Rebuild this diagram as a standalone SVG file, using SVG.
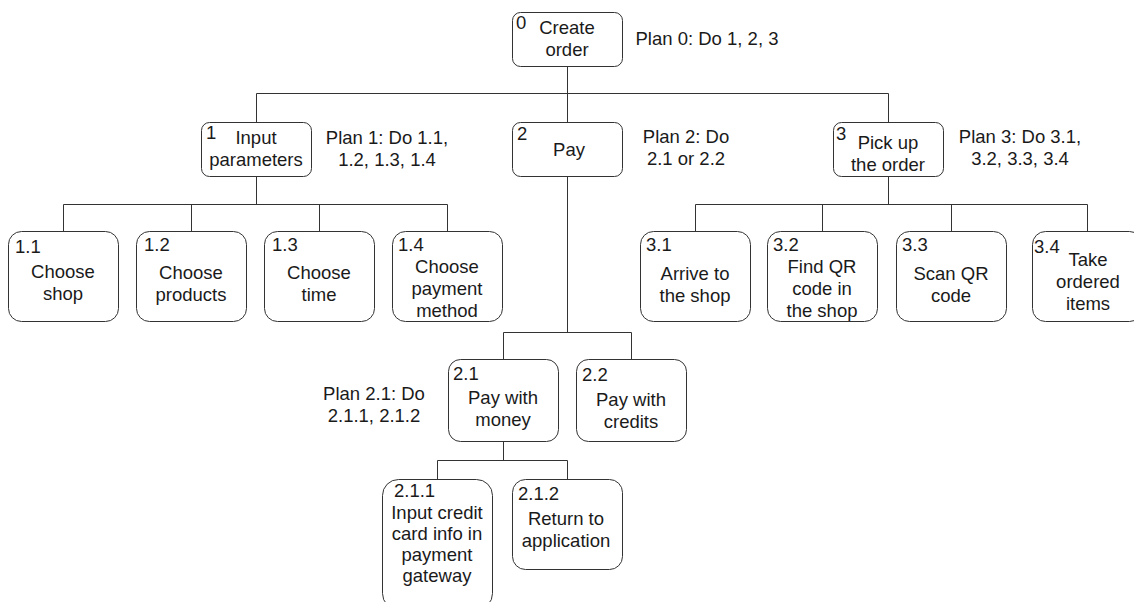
<svg xmlns="http://www.w3.org/2000/svg" width="1134" height="602" viewBox="0 0 1134 602">
  <style>
    .box { fill: #ffffff; stroke: #333333; stroke-width: 1; }
    .edge { fill: none; stroke: #333333; stroke-width: 1; }
    text { font-family: "Liberation Sans", Arial, sans-serif; font-size: 18.5px; fill: #1a1a1a; }
    .c { text-anchor: middle; }
  </style>
  <rect width="1134" height="602" fill="#ffffff"/>

  <!-- tree connectors -->
  <g id="connectors">
    <path class="edge" d="M567.5 66.5 V332.5"/>
    <path class="edge" d="M256.5 122.5 V93.5 H888.5 V122.5"/>
    <path class="edge" d="M256.5 176.5 V204.5"/>
    <path class="edge" d="M63.5 231.5 V204.5 H447.5 V231.5 M191.5 204.5 V231.5 M319.5 204.5 V231.5"/>
    <path class="edge" d="M888.5 176.5 V204.5"/>
    <path class="edge" d="M695.5 231.5 V204.5 H1087.5 V231.5 M822.5 204.5 V231.5 M951.5 204.5 V231.5"/>
    <path class="edge" d="M503.5 359.5 V332.5 H631.5 V359.5"/>
    <path class="edge" d="M503.5 441.5 V460.5"/>
    <path class="edge" d="M437.5 479.5 V460.5 H567.5 V479.5"/>
  </g>

  <!-- plan annotations -->
  <g id="plans">
    <text class="c" x="707" y="45">Plan 0: Do 1, 2, 3</text>
    <text class="c" x="387" y="144">Plan 1: Do 1.1,</text>
    <text class="c" x="387" y="166">1.2, 1.3, 1.4</text>
    <text class="c" x="686" y="143">Plan 2: Do</text>
    <text class="c" x="686" y="165">2.1 or 2.2</text>
    <text class="c" x="1020" y="143">Plan 3: Do 3.1,</text>
    <text class="c" x="1020" y="165">3.2, 3.3, 3.4</text>
    <text class="c" x="374" y="400">Plan 2.1: Do</text>
    <text class="c" x="374" y="422">2.1.1, 2.1.2</text>
  </g>

  <g id="n0">
    <rect class="box" x="512.5" y="12.5" width="110" height="54" rx="8"/>
    <text x="516" y="29">0</text>
    <text class="c" x="567" y="34">Create</text>
    <text class="c" x="567" y="56">order</text>
  </g>
  <g id="n1">
    <rect class="box" x="201.5" y="122.5" width="110" height="54" rx="8"/>
    <text x="206" y="139">1</text>
    <text class="c" x="256" y="144">Input</text>
    <text class="c" x="256" y="166">parameters</text>
  </g>
  <g id="n2">
    <rect class="box" x="512.5" y="122.5" width="110" height="54" rx="8"/>
    <text x="517" y="140">2</text>
    <text class="c" x="569" y="156">Pay</text>
  </g>
  <g id="n3">
    <rect class="box" x="833.5" y="122.5" width="110" height="54" rx="8"/>
    <text x="836" y="140">3</text>
    <text class="c" x="888" y="149">Pick up</text>
    <text class="c" x="888" y="171">the order</text>
  </g>

  <g id="n1_1">
    <rect class="box" x="8.5" y="231.5" width="110" height="90" rx="13"/>
    <text x="15" y="253">1.1</text>
    <text class="c" x="63" y="278">Choose</text>
    <text class="c" x="63" y="300">shop</text>
  </g>
  <g id="n1_2">
    <rect class="box" x="136.5" y="231.5" width="110" height="90" rx="13"/>
    <text x="144" y="251">1.2</text>
    <text class="c" x="191" y="279">Choose</text>
    <text class="c" x="191" y="301">products</text>
  </g>
  <g id="n1_3">
    <rect class="box" x="264.5" y="231.5" width="110" height="90" rx="13"/>
    <text x="272" y="251">1.3</text>
    <text class="c" x="319" y="279">Choose</text>
    <text class="c" x="319" y="301">time</text>
  </g>
  <g id="n1_4">
    <rect class="box" x="392.5" y="231.5" width="110" height="90" rx="13"/>
    <text x="398" y="251">1.4</text>
    <text class="c" x="447" y="273">Choose</text>
    <text class="c" x="447" y="295">payment</text>
    <text class="c" x="447" y="317">method</text>
  </g>

  <g id="n3_1">
    <rect class="box" x="640.5" y="231.5" width="110" height="90" rx="13"/>
    <text x="646" y="251">3.1</text>
    <text class="c" x="695" y="280">Arrive to</text>
    <text class="c" x="695" y="302">the shop</text>
  </g>
  <g id="n3_2">
    <rect class="box" x="767.5" y="231.5" width="110" height="90" rx="13"/>
    <text x="773" y="251">3.2</text>
    <text class="c" x="822" y="273">Find QR</text>
    <text class="c" x="822" y="295">code in</text>
    <text class="c" x="822" y="317">the shop</text>
  </g>
  <g id="n3_3">
    <rect class="box" x="896.5" y="231.5" width="110" height="90" rx="13"/>
    <text x="902" y="251">3.3</text>
    <text class="c" x="951" y="280">Scan QR</text>
    <text class="c" x="951" y="302">code</text>
  </g>
  <g id="n3_4">
    <rect class="box" x="1032.5" y="231.5" width="110" height="90" rx="13"/>
    <text x="1034" y="253">3.4</text>
    <text class="c" x="1088" y="266">Take</text>
    <text class="c" x="1088" y="288">ordered</text>
    <text class="c" x="1088" y="310">items</text>
  </g>

  <g id="n2_1">
    <rect class="box" x="448.5" y="359.5" width="110" height="82" rx="12"/>
    <text x="453" y="380">2.1</text>
    <text class="c" x="503" y="404">Pay with</text>
    <text class="c" x="503" y="426">money</text>
  </g>
  <g id="n2_2">
    <rect class="box" x="576.5" y="359.5" width="110" height="82" rx="12"/>
    <text x="582" y="381">2.2</text>
    <text class="c" x="631" y="406">Pay with</text>
    <text class="c" x="631" y="428">credits</text>
  </g>

  <g id="n2_1_1">
    <rect class="box" x="382.5" y="479.5" width="110" height="130" rx="16"/>
    <text x="394" y="497">2.1.1</text>
    <text class="c" x="437" y="519">Input credit</text>
    <text class="c" x="437" y="540">card info in</text>
    <text class="c" x="437" y="561">payment</text>
    <text class="c" x="437" y="582">gateway</text>
  </g>
  <g id="n2_1_2">
    <rect class="box" x="512.5" y="479.5" width="110" height="90" rx="13"/>
    <text x="518" y="500">2.1.2</text>
    <text class="c" x="566" y="525">Return to</text>
    <text class="c" x="566" y="547">application</text>
  </g>
</svg>
